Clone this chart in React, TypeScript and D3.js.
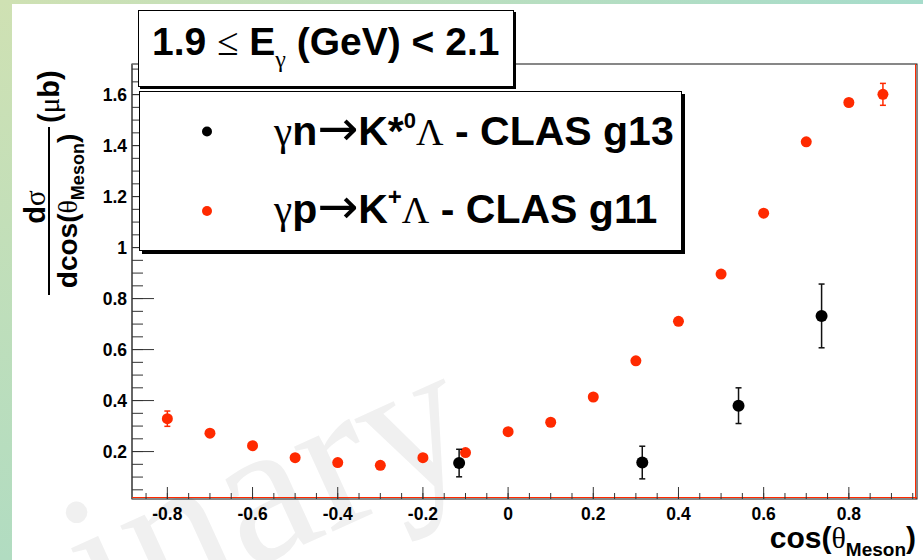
import * as d3 from 'd3';
import React from 'react';

// g11 (proton) cross sections
const g11Cos = [-0.8, -0.7, -0.6, -0.5, -0.4, -0.3, -0.2, -0.1, 0, 0.1, 0.2, 0.3, 0.4, 0.5, 0.6, 0.7, 0.8, 0.88];
const g11Val = [0.329, 0.272, 0.223, 0.176, 0.157, 0.146, 0.176, 0.196, 0.278, 0.315, 0.414, 0.556, 0.711, 0.896, 1.135, 1.415, 1.569, 1.601];
const g11Err = [0.03, 0.01, 0.01, 0.01, 0.012, 0.01, 0.01, 0.01, 0.01, 0.01, 0.01, 0.01, 0.01, 0.01, 0.01, 0.012, 0.012, 0.043];

// g13 (neutron) cross sections
const g13Cos = [-0.115, 0.315, 0.541, 0.736];
const g13Val = [0.155, 0.157, 0.38, 0.732];
const g13Err = [0.054, 0.064, 0.07, 0.125];

const xMajor = [-0.8, -0.6, -0.4, -0.2, 0, 0.2, 0.4, 0.6, 0.8];
const yMajor = [0.2, 0.4, 0.6, 0.8, 1, 1.2, 1.4, 1.6];

const W = 923;
const H = 560;
const frame = { left: 132, right: 917, top: 64, bottom: 499 };
const red = '#ff2a00';
const sans = '"Liberation Sans", Arial, sans-serif';
const serif = '"Liberation Serif", "Times New Roman", serif';
const arrowFont = '"DejaVu Sans", sans-serif';

const fmt = (v: number) => String(+v.toFixed(1));

const App = () => {
    const x = d3.scaleLinear().domain([-0.883, 0.96]).range([frame.left, frame.right]);
    const y = d3.scaleLinear().domain([0.014, 1.72]).range([frame.bottom, frame.top]);

    // minor ticks every 0.05 inside the frame
    const xMinor = d3.range(-0.85, 0.96, 0.05).filter(v => x(v) > frame.left && x(v) < frame.right);
    const yMinor = d3.range(0.05, 1.72, 0.05).filter(v => y(v) < frame.bottom && y(v) > frame.top);

    const errBar = (cx: number, v: number, e: number, color: string, key: string) => (
        <g key={key} stroke={color} strokeWidth={1.5}>
            <line x1={x(cx)} x2={x(cx)} y1={y(v - e)} y2={y(v + e)} />
            <line x1={x(cx) - 3} x2={x(cx) + 3} y1={y(v - e)} y2={y(v - e)} />
            <line x1={x(cx) - 3} x2={x(cx) + 3} y1={y(v + e)} y2={y(v + e)} />
        </g>
    );

    return (
        <svg width={W} height={H} style={{ position: 'absolute', left: 0, top: 0, background: '#fff' }}>
            <defs>
                <linearGradient id="leftStrip" x1="0" y1="0" x2="0" y2="1">
                    <stop offset="0" stopColor="#cfe1b3" />
                    <stop offset="1" stopColor="#b1dcc1" />
                </linearGradient>
                <linearGradient id="topStrip" x1="0" y1="0" x2="1" y2="0">
                    <stop offset="0" stopColor="#cfe1b3" />
                    <stop offset="1" stopColor="#a6dccb" />
                </linearGradient>
            </defs>

            {/* slide background strips */}
            <rect x={0} y={0} width={W} height={4} fill="url(#topStrip)" />
            <rect x={0} y={0} width={12} height={H} fill="url(#leftStrip)" />

            {/* watermark */}
            <text x={0} y={0} transform="translate(483,463) rotate(-24.5)" textAnchor="end"
                fontFamily={serif} fontSize={203} fill="#f0f0f0">Preliminary</text>

            {/* frame */}
            <rect x={frame.left} y={frame.top} width={frame.right - frame.left} height={frame.bottom - frame.top}
                fill="none" stroke="#111" strokeWidth={1} />
            <line x1={frame.left} x2={frame.left} y1={frame.top} y2={frame.bottom} stroke="#666" strokeWidth={2} />
            <line x1={frame.left} x2={frame.right} y1={frame.bottom - 1.5} y2={frame.bottom - 1.5} stroke={red} strokeWidth={1} />
            <line x1={frame.right - 1.5} x2={frame.right - 1.5} y1={frame.top} y2={frame.bottom} stroke={red} strokeWidth={1} />

            {/* x ticks */}
            {xMinor.map((v, i) => (
                <line key={'xm' + i} x1={x(v)} x2={x(v)} y1={frame.bottom} y2={frame.bottom - 6} stroke="#333" />
            ))}
            {xMajor.map(v => (
                <line key={'xM' + v} x1={x(v)} x2={x(v)} y1={frame.bottom} y2={frame.bottom - 12} stroke="#333" />
            ))}
            {xMajor.map(v => (
                <text key={'xl' + v} x={x(v)} y={520} textAnchor="middle" fontFamily={sans} fontWeight="bold" fontSize={17.5}>{fmt(v)}</text>
            ))}

            {/* y ticks */}
            {yMinor.map((v, i) => (
                <line key={'ym' + i} x1={frame.left} x2={frame.left + 11} y1={y(v)} y2={y(v)} stroke="#333" />
            ))}
            {yMajor.map(v => (
                <line key={'yM' + v} x1={frame.left} x2={frame.left + 22} y1={y(v)} y2={y(v)} stroke="#333" />
            ))}
            {yMajor.map(v => (
                <text key={'yl' + v} x={127} y={y(v)} dy="0.35em" textAnchor="end" fontFamily={sans} fontWeight="bold" fontSize={17.5}>{fmt(v)}</text>
            ))}

            {/* data: g11 red, g13 black */}
            {g11Cos.map((c, i) => errBar(c, g11Val[i], g11Err[i], red, 'er' + i))}
            {g11Cos.map((c, i) => (
                <circle key={'r' + i} cx={x(c)} cy={y(g11Val[i])} r={5.5} fill={red} />
            ))}
            {g13Cos.map((c, i) => errBar(c, g13Val[i], g13Err[i], '#111', 'eb' + i))}
            {g13Cos.map((c, i) => (
                <circle key={'b' + i} cx={x(c)} cy={y(g13Val[i])} r={6} fill="#000" />
            ))}

            {/* title box */}
            <rect x={140} y={12} width={376} height={77} fill="#000" />
            <rect x={138.5} y={10.5} width={375} height={76} fill="#fff" stroke="#000" />
            <text x={152} y={55} fontFamily={sans} fontWeight="bold" fontSize={39}>
                1.9 <tspan fontFamily={serif} fontWeight="normal">≤</tspan> E<tspan fontFamily={serif} fontWeight="normal" fontSize={24} dy={12}>γ</tspan>
                <tspan dy={-12}> (GeV) &lt; 2.1</tspan>
            </text>

            {/* legend */}
            <rect x={142} y={94} width={543} height={160} fill="#000" />
            <rect x={139.5} y={91.5} width={542} height={159} fill="#fff" stroke="#000" />
            <circle cx={207} cy={131.5} r={5} fill="#000" />
            <circle cx={207} cy={211} r={5} fill={red} />
            <text x={274} y={145} fontFamily={sans} fontWeight="bold" fontSize={41}>
                <tspan fontFamily={serif} fontWeight="normal">γ</tspan>n<tspan fontFamily={arrowFont} fontWeight="normal" fontSize={49}>→</tspan>K*<tspan fontSize={22} dy={-17}>0</tspan>
                <tspan dy={17} fontFamily={serif} fontWeight="normal" fontSize={38}>Λ</tspan> - CLAS g13
            </text>
            <text x={274} y={223} fontFamily={sans} fontWeight="bold" fontSize={41}>
                <tspan fontFamily={serif} fontWeight="normal">γ</tspan>p<tspan fontFamily={arrowFont} fontWeight="normal" fontSize={49}>→</tspan>K<tspan fontSize={24} dy={-18}>+</tspan>
                <tspan dy={18} fontFamily={serif} fontWeight="normal" fontSize={38}>Λ</tspan> - CLAS g11
            </text>

            {/* y axis title */}
            <g transform="translate(49,211) rotate(-90)">
                <line x1={-84} x2={84} y1={0} y2={0} stroke="#000" strokeWidth={2} />
                <text x={4} y={-4} textAnchor="middle" fontFamily={sans} fontWeight="bold" fontSize={29}>
                    d<tspan fontFamily={serif} fontWeight="normal">σ</tspan>
                </text>
                <text x={0} y={28} textAnchor="middle" fontFamily={sans} fontWeight="bold" fontSize={28}>
                    dcos(<tspan fontFamily={serif} fontWeight="normal">θ</tspan><tspan fontSize={18} dy={7}>Meson</tspan><tspan dy={-7}>)</tspan>
                </text>
                <text x={88} y={10} fontFamily={sans} fontWeight="bold" fontSize={29}>
                    (<tspan fontFamily={serif} fontWeight="normal">μ</tspan>b)
                </text>
            </g>

            {/* x axis title */}
            <text x={916} y={548} textAnchor="end" fontFamily={sans} fontWeight="bold" fontSize={30}>
                cos(<tspan fontFamily={serif} fontWeight="normal">θ</tspan><tspan fontSize={19} dy={8}>Meson</tspan><tspan dy={-8}>)</tspan>
            </text>
        </svg>
    );
};

export default App;
